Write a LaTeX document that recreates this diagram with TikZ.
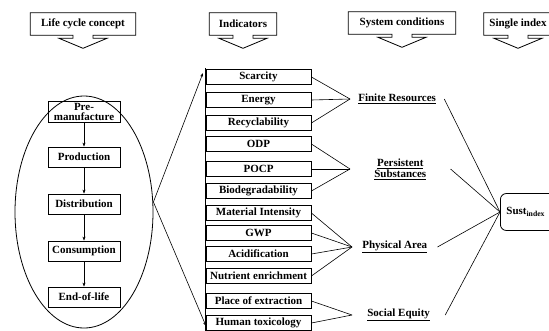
\documentclass[tikz,border=0pt]{standalone}
\usepackage{fontspec}
\setmainfont{Liberation Serif}
\usetikzlibrary{shapes.geometric,calc,arrows.meta}

\tikzset{
  every node/.style={font=\rmfamily\bfseries\fontsize{11}{10}\selectfont},
  head/.style={minimum height=22pt,inner sep=2pt},
  stagebox/.style={draw,line width=0.8pt,minimum width=72pt,minimum height=20pt,inner sep=1.5pt,align=center},
  indbox/.style={draw,line width=0.8pt,minimum width=105pt,minimum height=15pt,inner sep=1pt},
  cond/.style={anchor=west,align=center,inner ysep=3pt},
  >={Stealth[length=4pt,width=3pt]}
}

\begin{document}
\begin{tikzpicture}[x=1pt,y=-1pt,line width=0.6pt]
\useasboundingbox (0,0) rectangle (549,330);

\node[head,minimum width=105pt] (lcc) at (83,24) {Life cycle concept};
\node[head,minimum width=67pt] (ind) at (243,24) {Indicators};
\node[head,minimum width=107pt] (sys) at (402,23) {System conditions};
\node[head,minimum width=68pt] (sgl) at (518,24) {Single index};
\foreach \h in {lcc,ind,sys,sgl}
  \draw[line width=0.8pt] (\h.south west) -- (\h.north west) -- (\h.north east)
    -- (\h.south east) -- ($(\h.south)+(10,0)$) -- ++(0,3) -- ++(14,0)
    -- ($(\h.south)+(0,13)$) -- ++(-24,-10) -- ++(14,0) -- ++(0,-3) -- cycle;

\node[ellipse,draw,line width=0.8pt,minimum width=138pt,minimum height=232pt] (lc) at (84,212) {};
\node[stagebox] (pre) at (84,112) {Pre-\\manufacture};
\node[stagebox] (prod) at (84,157) {Production};
\node[stagebox] (dist) at (84,204) {Distribution};
\node[stagebox] (cons) at (84,251) {Consumption};
\node[stagebox] (eol) at (84,297) {End-of-life};
\draw[->] (pre) -- (prod);
\draw[->] (prod) -- (dist);
\draw[->] (dist) -- (cons);
\draw[->] (cons) -- (eol);

\foreach \n/\y/\t in {scar/77/Scarcity,ener/100/Energy,recy/123/Recyclability,
    odp/144/ODP,pocp/169/POCP,biod/191/Biodegradability,mat/213/Material Intensity,
    gwp/233/GWP,acid/254/Acidification,nutr/276/Nutrient enrichment,
    place/301/Place of extraction,htox/323/Human toxicology}
  \node[indbox] (\n) at (258.5,\y) {\t};

\coordinate (itop) at (205,68);
\coordinate (ibot) at (205,331);
\coordinate (xtop) at (203,73);
\coordinate (xbot) at (206,326);
\draw (itop) -- (ibot);
\draw[->] ([yshift=10pt]lc.east) -- (xtop);
\draw[->] ([yshift=10pt]lc.east) -- (xbot);

\node[cond,inner xsep=8pt] (fin) at (350,99) {\underline{Finite Resources}};
\node[cond,inner xsep=24pt] (per) at (350,169) {\underline{Persistent}\\[1pt]\underline{Substances}};
\node[cond,inner xsep=10pt] (phy) at (352,247) {\underline{Physical Area}};
\node[cond,inner xsep=15pt] (soc) at (352,315) {\underline{Social Equity}};
\foreach \i in {scar,ener,recy} \draw (\i.east) -- (fin.west);
\foreach \i in {odp,pocp,biod} \draw (\i.east) -- (per.west);
\foreach \i in {mat,gwp,acid,nutr} \draw (\i.east) -- (phy.west);
\foreach \i in {place,htox} \draw (\i.east) -- (soc.west);

\node[draw,rounded corners=6pt,line width=0.8pt,minimum height=37pt,text width=50pt,
  inner xsep=6pt,align=left,anchor=west] (sust) at (500,212) {Sust\textsubscript{index}};
\foreach \c in {fin,per,phy,soc} \draw (\c.east) -- (sust.west);
\end{tikzpicture}
\end{document}
